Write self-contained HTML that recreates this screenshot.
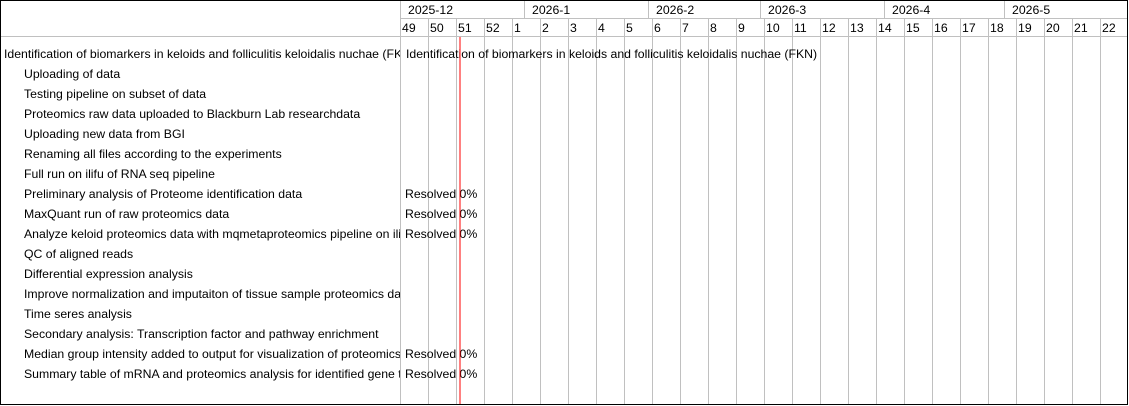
<!DOCTYPE html>
<html><head><meta charset="utf-8"><style>
html,body{margin:0;padding:0;background:#fff}
svg{display:block}
text{font-family:"Liberation Sans",sans-serif;font-size:12.27px;fill:#000}
</style></head><body>
<svg width="1129" height="406" xmlns="http://www.w3.org/2000/svg">
<rect x="0" y="0" width="1129" height="406" fill="#fff"/>
<g stroke="#c0c0c0" stroke-width="1">
<line x1="400" y1="18.5" x2="1128" y2="18.5"/>
<line x1="0" y1="36.5" x2="1128" y2="36.5"/>
<line x1="400.5" y1="0" x2="400.5" y2="405"/>
<line x1="524.5" y1="0" x2="524.5" y2="18"/>
<line x1="648.5" y1="0" x2="648.5" y2="18"/>
<line x1="760.5" y1="0" x2="760.5" y2="18"/>
<line x1="884.5" y1="0" x2="884.5" y2="18"/>
<line x1="1004.5" y1="0" x2="1004.5" y2="18"/>
<line x1="428.5" y1="18" x2="428.5" y2="405"/><line x1="456.5" y1="18" x2="456.5" y2="405"/><line x1="484.5" y1="18" x2="484.5" y2="405"/><line x1="512.5" y1="18" x2="512.5" y2="405"/><line x1="540.5" y1="18" x2="540.5" y2="405"/><line x1="568.5" y1="18" x2="568.5" y2="405"/><line x1="596.5" y1="18" x2="596.5" y2="405"/><line x1="624.5" y1="18" x2="624.5" y2="405"/><line x1="652.5" y1="18" x2="652.5" y2="405"/><line x1="680.5" y1="18" x2="680.5" y2="405"/><line x1="708.5" y1="18" x2="708.5" y2="405"/><line x1="736.5" y1="18" x2="736.5" y2="405"/><line x1="764.5" y1="18" x2="764.5" y2="405"/><line x1="792.5" y1="18" x2="792.5" y2="405"/><line x1="820.5" y1="18" x2="820.5" y2="405"/><line x1="848.5" y1="18" x2="848.5" y2="405"/><line x1="876.5" y1="18" x2="876.5" y2="405"/><line x1="904.5" y1="18" x2="904.5" y2="405"/><line x1="932.5" y1="18" x2="932.5" y2="405"/><line x1="960.5" y1="18" x2="960.5" y2="405"/><line x1="988.5" y1="18" x2="988.5" y2="405"/><line x1="1016.5" y1="18" x2="1016.5" y2="405"/><line x1="1044.5" y1="18" x2="1044.5" y2="405"/><line x1="1072.5" y1="18" x2="1072.5" y2="405"/><line x1="1100.5" y1="18" x2="1100.5" y2="405"/>
</g>
<g>
<text x="408" y="14">2025-12</text><text x="532" y="14">2026-1</text><text x="656" y="14">2026-2</text><text x="768" y="14">2026-3</text><text x="892" y="14">2026-4</text><text x="1012" y="14">2026-5</text>
<text x="402" y="32">49</text><text x="430" y="32">50</text><text x="458" y="32">51</text><text x="486" y="32">52</text><text x="514" y="32">1</text><text x="542" y="32">2</text><text x="570" y="32">3</text><text x="598" y="32">4</text><text x="626" y="32">5</text><text x="654" y="32">6</text><text x="682" y="32">7</text><text x="710" y="32">8</text><text x="738" y="32">9</text><text x="766" y="32">10</text><text x="794" y="32">11</text><text x="822" y="32">12</text><text x="850" y="32">13</text><text x="878" y="32">14</text><text x="906" y="32">15</text><text x="934" y="32">16</text><text x="962" y="32">17</text><text x="990" y="32">18</text><text x="1018" y="32">19</text><text x="1046" y="32">20</text><text x="1074" y="32">21</text><text x="1102" y="32">22</text>
</g>
<svg x="0" y="0" width="400" height="406">
<text x="4" y="58">Identification of biomarkers in keloids and folliculitis keloidalis nuchae (FKN)</text>
<text x="24" y="78">Uploading of data</text>
<text x="24" y="98">Testing pipeline on subset of data</text>
<text x="24" y="118">Proteomics raw data uploaded to Blackburn Lab researchdata</text>
<text x="24" y="138">Uploading new data from BGI</text>
<text x="24" y="158">Renaming all files according to the experiments</text>
<text x="24" y="178">Full run on ilifu of RNA seq pipeline</text>
<text x="24" y="198">Preliminary analysis of Proteome identification data</text>
<text x="24" y="218">MaxQuant run of raw proteomics data</text>
<text x="24" y="238">Analyze keloid proteomics data with mqmetaproteomics pipeline on ilifu</text>
<text x="24" y="258">QC of aligned reads</text>
<text x="24" y="278">Differential expression analysis</text>
<text x="24" y="298">Improve normalization and imputaiton of tissue sample proteomics data</text>
<text x="24" y="318">Time seres analysis</text>
<text x="24" y="338">Secondary analysis: Transcription factor and pathway enrichment</text>
<text x="24" y="358">Median group intensity added to output for visualization of proteomics</text>
<text x="24" y="378">Summary table of mRNA and proteomics analysis for identified gene targets</text>
</svg>
<text x="406" y="58">Identification of biomarkers in keloids and folliculitis keloidalis nuchae (FKN)</text>
<text x="405" y="198">Resolved 0%</text>
<text x="405" y="218">Resolved 0%</text>
<text x="405" y="238">Resolved 0%</text>
<text x="405" y="358">Resolved 0%</text>
<text x="405" y="378">Resolved 0%</text>
<line x1="460" y1="37" x2="460" y2="405" stroke="#ff0000" stroke-width="1"/>
<rect x="0.5" y="0.5" width="1127" height="404" fill="none" stroke="#000" stroke-width="1"/>
</svg>
</body></html>
